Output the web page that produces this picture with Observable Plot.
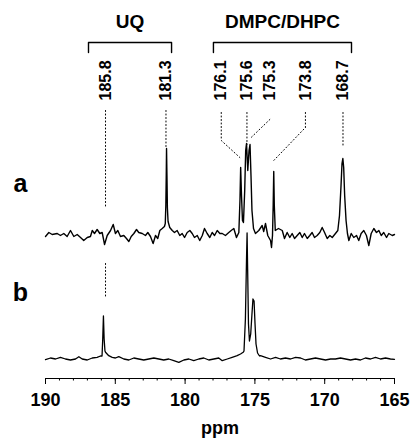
<!DOCTYPE html>
<html><head><meta charset="utf-8">
<script src="https://cdn.jsdelivr.net/npm/d3@7"></script>
<script src="https://cdn.jsdelivr.net/npm/@observablehq/plot@0.6"></script>
<style>body{margin:0;background:#fff}</style>
</head><body><div id="chart"></div>
<script>
// ---- data (ppm, intensity) ----
const specA = [
[190.00,-1],[189.76,3],[189.52,1],[189.16,2],[188.93,0],[188.69,2],[188.45,-1],[188.21,5],[187.97,-1],[187.73,1],[187.49,-2],[187.26,-5],[187.01,-2],[186.78,-1],[186.65,5],[186.49,2],[186.30,6],[186.11,2],[185.94,3],[185.77,-9],[185.58,0],[185.34,5],[185.15,11],[184.99,2],[184.82,5],[184.63,-1],[184.39,0],[184.20,-3],[184.03,-6],[183.86,-1],[183.67,2],[183.48,6],[183.32,3],[183.07,2],[182.84,0],[182.67,3],[182.48,-1],[182.29,-8],[182.12,0],[181.96,-3],[181.81,5],[181.64,7],[181.48,9],
[181.42,12],[181.38,30],[181.35,60],[181.33,87],[181.30,60],[181.27,28],[181.22,14],
[181.10,8],[180.92,5],[180.76,3],[180.57,5],[180.38,0],[180.21,2],[180.04,-2],[179.85,3],[179.66,5],[179.49,2],[179.33,-2],[179.13,0],[178.95,-5],[178.77,0],[178.61,7],[178.42,2],[178.23,-2],[178.06,3],[177.89,0],[177.70,5],[177.51,2],[177.34,2],[177.11,0],[176.87,3],[176.70,5],[176.51,7],[176.32,-2],[176.15,3],
[176.07,35],[176.02,68],[175.96,40],[175.89,15],[175.82,13],[175.73,45],[175.66,85],[175.60,92],[175.51,65],[175.42,85],[175.35,91],[175.28,60],[175.21,25],[175.10,7],[174.96,2],[174.72,5],[174.48,10],[174.37,4],[174.24,12],[174.08,0],[173.88,-5],[173.81,-12],[173.74,0],[173.69,30],[173.65,64],[173.61,30],[173.54,5],[173.31,7],
[173.04,5],[172.88,-3],[172.69,3],[172.50,-2],[172.33,2],[172.16,-3],[171.97,0],[171.78,3],[171.61,-2],[171.45,2],[171.25,-3],[171.07,0],[170.90,3],[170.73,-2],[170.54,0],[170.35,3],[170.18,8],[170.01,3],[169.82,-3],[169.63,0],[169.46,-2],[169.23,2],[169.06,5],
[168.94,20],[168.83,50],[168.76,72],[168.70,77],[168.64,68],[168.57,40],[168.47,15],[168.37,2],[168.27,-5],
[168.10,2],[167.92,-2],[167.72,0],[167.56,-5],[167.39,2],[167.20,5],[167.01,0],[166.84,-10],[166.67,2],[166.48,7],[166.29,3],[166.12,5],[165.95,0],[165.77,3],[165.57,-2],[165.41,2],[165.16,0],[165.00,1]
];
const specB = [
[190.00,-0.7],[189.64,1],[189.28,0],[188.93,1.7],[188.57,0],[188.21,-1],[187.85,0],[187.61,2.3],[187.37,0],[187.01,-1],[186.65,1],[186.30,1.7],[186.06,3],
[185.95,3],[185.90,20],[185.85,43],[185.80,20],[185.74,8],[185.70,6.7],[185.47,3.3],[185.22,1.7],[184.99,1],[184.75,2.3],[184.39,0],[184.03,-1],[183.67,1],[183.32,0],[182.96,-1],[182.60,0],[182.24,1],[181.88,0],[181.53,-1],[181.17,0],[180.81,-1.7],[180.45,-3.3],[180.09,-1],[179.73,0],[179.38,-1.7],[179.02,0],[178.66,1],[178.30,-1],[177.94,0],[177.59,1],[177.34,-1.7],[176.98,0],[176.63,1.7],[176.27,3.3],[176.03,5],[175.84,6.7],
[175.78,8],[175.68,40],[175.60,100],[175.56,126],[175.52,90],[175.46,35],[175.39,18],[175.30,25],[175.21,45],[175.14,60],[175.06,58],[174.99,35],[174.92,15],[174.81,6],[174.67,3],
[174.60,3.3],[174.24,1.7],[173.88,0],[173.52,1.7],[173.17,0],[172.81,1],[172.45,0],[172.09,1.7],[171.73,1],[171.38,-1],[171.02,0],[170.66,1],[170.30,0],[169.94,-1],[169.58,0],[169.23,0],[168.87,1],[168.51,0],[168.15,-1],[167.79,0],[167.44,-1],[167.08,1],[166.72,0],[166.36,1.7],[166.00,0],[165.64,1],[165.29,0],[165.00,-0.3]
];
const majorTicks = [190, 185, 180, 175, 170, 165];
const minorTicks = d3.range(165, 191);
const peakLabels = ["185.8", "181.3", "176.1", "175.6", "175.3", "173.8", "168.7"];
const labelAt = [185.70, 181.37, 177.41, 175.57, 173.93, 171.38, 168.69];
const leaderPaths = [
  [[185.70, 268], [185.70, 171]],
  [[181.37, 268], [181.37, 231]],
  [[177.41, 266], [177.41, 238], [176.08, 221]],
  [[175.57, 266], [175.57, 234]],
  [[173.93, 259], [175.27, 241]],
  [[171.38, 266], [171.38, 251], [173.65, 218]],
  [[168.69, 266], [168.69, 233]],
  [[185.70, 115], [185.70, 80]]
];
const groupNames = ["UQ", "DMPC/DHPC"];
const groupFrom = [186.92, 177.97];
const groupTo = [180.97, 168.08];
const traceNames = ["a", "b"];

// ---- layout ----
const baseA = 143, baseB = 19.5;
const font = "'Liberation Sans', Arial, Helvetica, sans-serif";

const leaders = leaderPaths.flatMap((p, i) => p.map(([x, y]) => ({id: i, x, y})));
const brackets = groupNames.flatMap((g, i) => [
  {id: g, x: groupFrom[i], y: 326}, {id: g, x: groupFrom[i], y: 336},
  {id: g, x: groupTo[i], y: 336}, {id: g, x: groupTo[i], y: 326}
]);

const chart = Plot.plot({
  width: 413, height: 439,
  marginLeft: 45, marginRight: 19, marginTop: 0, marginBottom: 61,
  style: {fontFamily: font, background: "#fff", color: "#000"},
  x: {domain: [190, 165], label: null},
  y: {domain: [0, 378], axis: null},
  marks: [
    Plot.ruleY([0], {stroke: "#000", strokeWidth: 1.1}),
    Plot.axisX({ticks: minorTicks, tickSize: 2.5, tickFormat: () => "", strokeWidth: 1}),
    Plot.axisX({ticks: majorTicks, tickSize: 6, tickPadding: 9, tickFormat: d => String(d),
      fontSize: 18, fontWeight: "bold", fontFamily: font, strokeWidth: 1}),
    Plot.text(["ppm"], {frameAnchor: "bottom", dy: 55, text: d => d, fontSize: 18, fontWeight: "bold", fontFamily: font}),
    Plot.line(specA, {x: d => d[0], y: d => d[1] + baseA, stroke: "#000", strokeWidth: 1.4, strokeLinejoin: "round"}),
    Plot.line(specB, {x: d => d[0], y: d => d[1] + baseB, stroke: "#000", strokeWidth: 1.3, strokeLinejoin: "round"}),
    Plot.line(leaders, {x: "x", y: "y", z: "id", stroke: "#000", strokeWidth: 1, strokeDasharray: "1,2.5"}),
    Plot.text(peakLabels, {x: (d, i) => labelAt[i], y: 278, text: d => d, rotate: -90,
      textAnchor: "start", lineAnchor: "middle", fontSize: 16, fontWeight: "bold", fontFamily: font}),
    Plot.line(brackets, {x: "x", y: "y", z: "id", stroke: "#000", strokeWidth: 1.4}),
    Plot.text(groupNames, {x: (d, i) => (groupFrom[i] + groupTo[i]) / 2, y: 357, text: d => d,
      fontSize: 19, fontWeight: "bold", fontFamily: font, lineAnchor: "middle"}),
    Plot.text(traceNames, {frameAnchor: "left", dx: -25, y: (d, i) => [baseA + 52, baseB + 66][i], text: d => d,
      textAnchor: "middle", fontSize: 25, fontWeight: "bold", fontFamily: font, lineAnchor: "middle"})
  ]
});
document.getElementById("chart").appendChild(chart);
</script>
</body></html>
